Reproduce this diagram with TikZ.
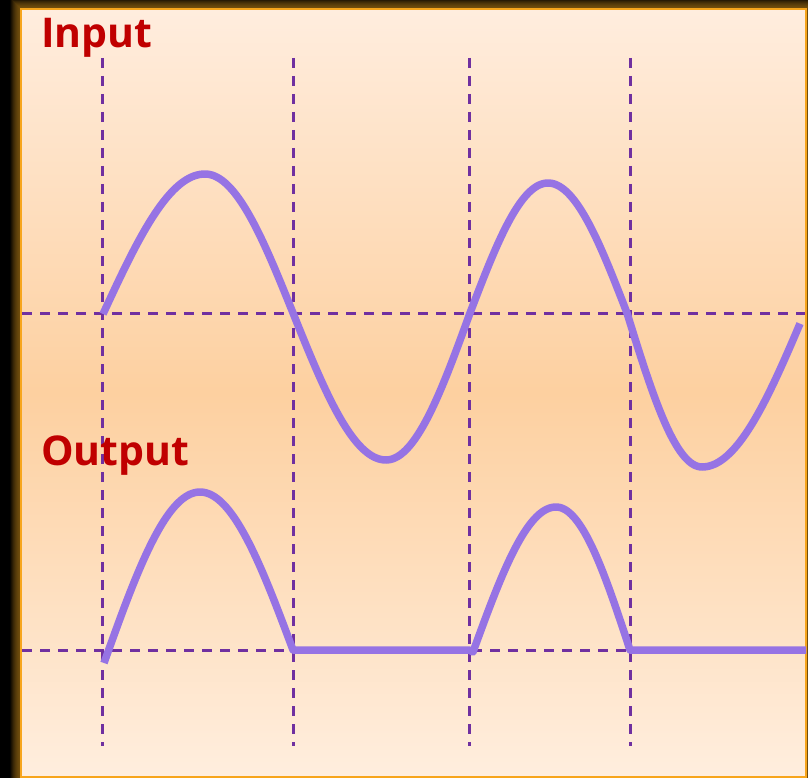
\documentclass[tikz,border=0pt]{standalone}
\usepackage{fontspec}
\setmainfont{Open Sans}
\definecolor{wave}{RGB}{150,115,228}
\definecolor{guide}{RGB}{112,48,160}
\definecolor{lbl}{RGB}{192,0,0}
\definecolor{frame}{RGB}{247,165,28}
\definecolor{shadowc}{RGB}{120,82,14}
\definecolor{bgtop}{RGB}{255,237,222}
\definecolor{bgmid}{RGB}{253,208,160}
\definecolor{bgbot}{RGB}{255,238,222}
\tikzset{
  guideline/.style={guide, line width=3pt, dash pattern=on 10pt off 8pt},
  waveline/.style={wave, line width=7.5pt, line join=round},
  label/.style={anchor=base west, text=lbl, font=\fontsize{41}{48}\selectfont\bfseries, inner sep=0pt}
}
\begin{document}
\begin{tikzpicture}[x=1pt,y=-1pt]
\useasboundingbox (0,0) rectangle (808,778);
\fill[black] (0,0) rectangle (808,778);
% glow / shadow
\foreach \i in {1,...,10}{
  \draw[shadowc, line width=1.2pt, opacity={0.85*(1-\i/11)}] (21-\i,9-\i) rectangle (806+\i,777+\i);
}
% panel
\shade[top color=bgtop, bottom color=bgbot, middle color=bgmid] (21,9) rectangle (806,777);
\draw[frame, line width=2.6pt] (21,9) rectangle (806,777);
% guides
\foreach \gx in {102,293,469,630}{
  \draw[guideline] (\gx,58) -- (\gx,746);
}
\draw[guideline] (22,313) -- (805,313);
\draw[guideline] (22,650) -- (805,650);
% input wave
\draw[waveline, samples=40, smooth]
  plot[domain=103:205] (\x,{314-140*sin(90*(\x-103)/102)})
  -- plot[domain=205:293] (\x,{313-139*cos(90*(\x-205)/88)})
  -- plot[domain=293:386] (\x,{313+147*sin(90*(\x-293)/93)})
  -- plot[domain=386:470] (\x,{313+147*cos(90*(\x-386)/84)})
  -- plot[domain=470:548] (\x,{313-130*sin(90*(\x-470)/78)})
  -- plot[domain=548:627] (\x,{313-130*cos(90*(\x-548)/79)})
  -- plot[domain=627:702] (\x,{313+154*sin(90*(\x-627)/75)})
  -- plot[domain=702:800] (\x,{313+154*cos(90*(\x-702)/102.5)});
% output wave
\draw[waveline, samples=40, smooth]
  plot[domain=104:200] (\x,{663-171*sin(90*(\x-104)/96)})
  -- plot[domain=200:293] (\x,{650-158*cos(90*(\x-200)/93)})
  -- (469,650) -- (473,652)
  -- plot[domain=473:556] (\x,{652-145*sin(90*(\x-473)/83)})
  -- plot[domain=556:630] (\x,{650-143*cos(90*(\x-556)/74)})
  -- (806,650);
% labels
\node[label] (inlbl) at (41,48) {Input};
\node[label] (outlbl) at (41,465) {Output};
\end{tikzpicture}
\end{document}
